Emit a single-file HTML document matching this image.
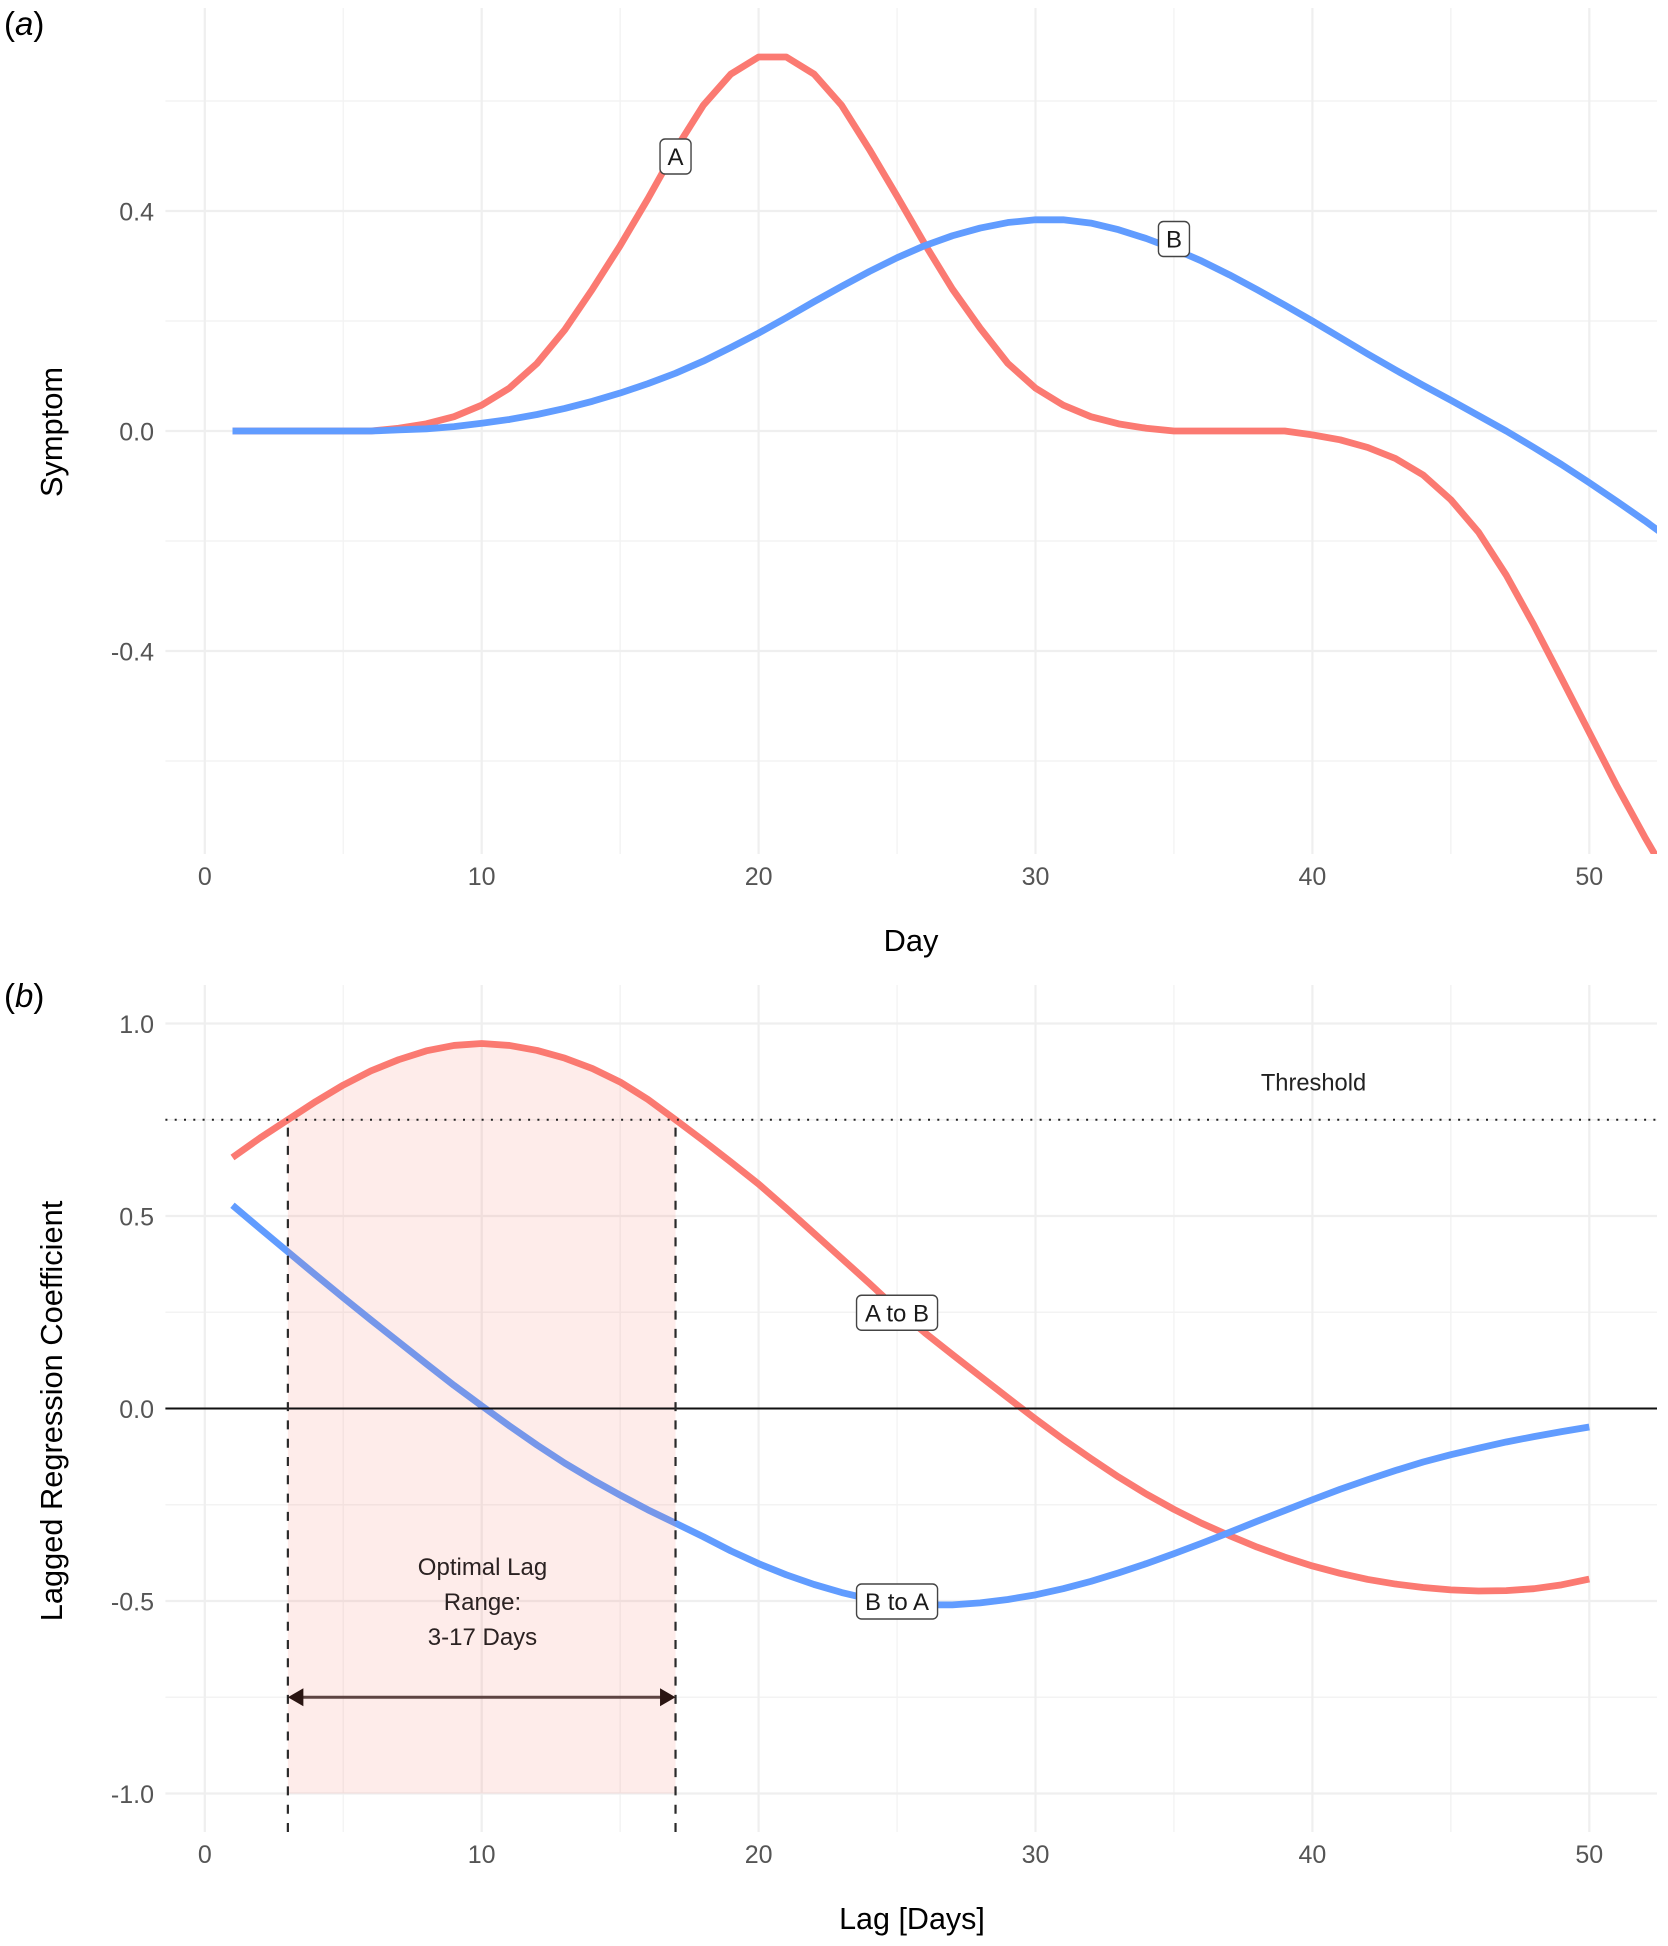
<!DOCTYPE html>
<html lang="en">
<head>
<meta charset="utf-8">
<title>Symptom trajectories and lagged regression coefficients</title>
<style>
html,body{margin:0;padding:0;background:#fff;}
body{width:1668px;height:1946px;overflow:hidden;}
svg{display:block;font-family:"Liberation Sans",Arial,sans-serif;}
</style>
</head>
<body>
<svg id="chart" xmlns="http://www.w3.org/2000/svg" width="1668" height="1946" viewBox="0 0 1668 1946">
  <defs>
    <clipPath id="clip-a"><rect x="165.4" y="8" width="1491.6" height="846"/></clipPath>
    <clipPath id="clip-b"><rect x="165.4" y="985" width="1491.6" height="847"/></clipPath>
  </defs>
  <rect width="1668" height="1946" fill="#ffffff"/>
  <g id="panel-a"></g>
  <g id="panel-b"></g>
  <text x="4" y="35" font-size="33" fill="#000"><tspan>(</tspan><tspan font-style="italic">a</tspan><tspan>)</tspan></text>
  <text x="4" y="1007" font-size="33" fill="#000"><tspan>(</tspan><tspan font-style="italic">b</tspan><tspan>)</tspan></text>
  <text x="911" y="951" font-size="30.8" text-anchor="middle" fill="#000">Day</text>
  <text transform="translate(62,432) rotate(-90)" font-size="30.8" text-anchor="middle" fill="#000">Symptom</text>
  <text x="912" y="1929" font-size="30.5" text-anchor="middle" fill="#000">Lag [Days]</text>
  <text transform="translate(62,1411) rotate(-90)" font-size="30.8" text-anchor="middle" fill="#000">Lagged Regression Coefficient</text>
  <text x="1313.5" y="1090.5" font-size="23.7" text-anchor="middle" fill="#222">Threshold</text>
  <text x="482.5" y="1575" font-size="24" text-anchor="middle" fill="#2b2222">Optimal Lag</text>
  <text x="482.5" y="1610" font-size="24" text-anchor="middle" fill="#2b2222">Range:</text>
  <text x="482.5" y="1645" font-size="24" text-anchor="middle" fill="#2b2222">3-17 Days</text>
</svg>
<script>
// ---- Panel (a) data ----
const dayValues = [1,2,3,4,5,6,7,8,9,10,11,12,13,14,15,16,17,18,19,20,21,22,23,24,25,26,27,28,29,30,31,32,33,34,35,36,37,38,39,40,41,42,43,44,45,46,47,48,49,50,51,52,53];
const symptomA = [0,0,0,0,0,0,0.005,0.013,0.026,0.047,0.078,0.123,0.184,0.258,0.337,0.422,0.512,0.592,0.649,0.68,0.68,0.649,0.592,0.512,0.427,0.34,0.258,0.187,0.123,0.078,0.047,0.026,0.013,0.005,0,0,0,0,0,-0.007,-0.016,-0.03,-0.05,-0.08,-0.125,-0.184,-0.262,-0.353,-0.45,-0.548,-0.646,-0.738,-0.825];
const symptomB = [0,0,0,0,0,0,0.002,0.004,0.008,0.014,0.021,0.03,0.041,0.054,0.069,0.086,0.105,0.127,0.152,0.178,0.206,0.235,0.263,0.29,0.315,0.337,0.355,0.369,0.379,0.384,0.384,0.378,0.366,0.35,0.331,0.309,0.284,0.257,0.229,0.2,0.17,0.14,0.111,0.083,0.056,0.028,0,-0.03,-0.061,-0.094,-0.128,-0.163,-0.2];
const xTicksMajor = [0,10,20,30,40,50];
const xTicksMinor = [5,15,25,35,45];
const yTicksA = [-0.4,0,0.4];
const yTickLabelsA = ["-0.4","0.0","0.4"];
const yMinorA = [-0.6,-0.2,0.2,0.6];

// ---- Panel (b) data ----
const lagValues = [1,2,3,4,5,6,7,8,9,10,11,12,13,14,15,16,17,18,19,20,21,22,23,24,25,26,27,28,29,30,31,32,33,34,35,36,37,38,39,40,41,42,43,44,45,46,47,48,49,50];
const coefAtoB = [0.652,0.703,0.75,0.797,0.84,0.877,0.906,0.929,0.943,0.948,0.943,0.93,0.91,0.883,0.848,0.803,0.75,0.696,0.64,0.583,0.52,0.455,0.39,0.325,0.258,0.197,0.14,0.084,0.028,-0.027,-0.08,-0.13,-0.178,-0.222,-0.262,-0.298,-0.33,-0.36,-0.386,-0.409,-0.428,-0.444,-0.456,-0.465,-0.471,-0.474,-0.473,-0.468,-0.458,-0.443];
const coefBtoA = [0.528,0.467,0.407,0.347,0.288,0.23,0.173,0.116,0.06,0.007,-0.045,-0.095,-0.142,-0.185,-0.225,-0.263,-0.298,-0.333,-0.37,-0.403,-0.432,-0.457,-0.478,-0.495,-0.505,-0.51,-0.51,-0.505,-0.496,-0.484,-0.468,-0.449,-0.427,-0.403,-0.377,-0.35,-0.322,-0.293,-0.265,-0.237,-0.21,-0.185,-0.161,-0.139,-0.12,-0.103,-0.087,-0.073,-0.06,-0.048];
const yTicksB = [-1,-0.5,0,0.5,1];
const yTickLabelsB = ["-1.0","-0.5","0.0","0.5","1.0"];
const yMinorB = [-0.75,-0.25,0.25,0.75];
const thresholdValue = [0.75];
const lagRange = [3,17];

// ---- Axis functions ----
const NS = 'http://www.w3.org/2000/svg';
const sx = d => 204.8 + 27.69 * d;
const syA = v => 431 - 550 * v;
const syB = v => 1408.5 - 385 * v;
const LEFT = 165.4, RIGHT = 1657;
const LINE_W = 6.8;
const RED = '#fb7a72', BLUE = '#619cff';
const panelA = document.getElementById('panel-a');
const panelB = document.getElementById('panel-b');

function mk(parent, tag, attrs, txt) {
  const e = document.createElementNS(NS, tag);
  for (const k in attrs) e.setAttribute(k, attrs[k]);
  if (txt !== undefined) e.textContent = txt;
  parent.appendChild(e);
  return e;
}

function drawGrid(parent, sy, top, bottom, yMajor, yLabels, yMinor, tickY) {
  yMinor.forEach(v => {
    const l = mk(parent, 'line', {x1: LEFT, x2: RIGHT, y1: sy(v), y2: sy(v), stroke: '#f3f3f3', 'stroke-width': 1.4});
    
    
  });
  xTicksMinor.forEach(v => {
    const l = mk(parent, 'line', {x1: sx(v), x2: sx(v), y1: top, y2: bottom, stroke: '#f3f3f3', 'stroke-width': 1.4});
    
    
  });
  yMajor.forEach((v, i) => {
    const l = mk(parent, 'line', {x1: LEFT, x2: RIGHT, y1: sy(v), y2: sy(v), stroke: '#efefef', 'stroke-width': 2.2});
    
    
    const t = mk(parent, 'text', {x: 154, y: sy(v) + 9.5, 'font-size': 25, 'text-anchor': 'end', fill: '#555'}, yLabels[i]);
    
    
  });
  xTicksMajor.forEach(v => {
    const l = mk(parent, 'line', {x1: sx(v), x2: sx(v), y1: top, y2: bottom, stroke: '#efefef', 'stroke-width': 2.2});
    
    
    const t = mk(parent, 'text', {x: sx(v), y: tickY, 'font-size': 25, 'text-anchor': 'middle', fill: '#555'}, String(v));
    
    
  });
}

function linePath(xs, ys, sy) {
  return xs.map((x, i) => (i ? 'L' : 'M') + sx(x).toFixed(2) + ' ' + sy(ys[i]).toFixed(2)).join('');
}

function drawLabel(parent, x, y, w, text, name) {
  const g = mk(parent, 'g', {});
  
  
  mk(g, 'rect', {x: x - w / 2, y: y - 17, width: w, height: 35, rx: 5, ry: 5, fill: '#fff', stroke: '#444', 'stroke-width': 1.4});
  mk(g, 'text', {x: x, y: y + 9, 'font-size': 24, 'text-anchor': 'middle', fill: '#1a1a1a'}, text);
}

// ---- Panel (a) ----
drawGrid(panelA, syA, 8, 854, yTicksA, yTickLabelsA, yMinorA, 885);
const lineA = mk(panelA, 'path', {d: linePath(dayValues, symptomA, syA), fill: 'none', stroke: RED, 'stroke-width': LINE_W, 'stroke-linejoin': 'round', 'clip-path': 'url(#clip-a)'});


const lineB = mk(panelA, 'path', {d: linePath(dayValues, symptomB, syA), fill: 'none', stroke: BLUE, 'stroke-width': LINE_W, 'stroke-linejoin': 'round', 'clip-path': 'url(#clip-a)'});


drawLabel(panelA, sx(dayValues[16]), syA(0.5), 31, 'A', 'label-a');
drawLabel(panelA, sx(dayValues[34]), syA(0.35), 31, 'B', 'label-b');

// ---- Panel (b) ----
drawGrid(panelB, syB, 985, 1832, yTicksB, yTickLabelsB, yMinorB, 1863);
const lineAB = mk(panelB, 'path', {d: linePath(lagValues, coefAtoB, syB), fill: 'none', stroke: RED, 'stroke-width': LINE_W, 'stroke-linejoin': 'round', 'clip-path': 'url(#clip-b)'});


const lineBA = mk(panelB, 'path', {d: linePath(lagValues, coefBtoA, syB), fill: 'none', stroke: BLUE, 'stroke-width': LINE_W, 'stroke-linejoin': 'round', 'clip-path': 'url(#clip-b)'});



// ribbon: from -1 up to the A-to-B curve over the optimal lag range
const ribbonIdx = lagValues.map((d, i) => i).filter(i => lagValues[i] >= lagRange[0] && lagValues[i] <= lagRange[1]);
let ribbonD = 'M' + sx(lagRange[0]) + ' ' + syB(-1);
ribbonIdx.forEach(i => { ribbonD += 'L' + sx(lagValues[i]).toFixed(2) + ' ' + syB(coefAtoB[i]).toFixed(2); });
ribbonD += 'L' + sx(lagRange[1]) + ' ' + syB(-1) + 'Z';
const ribbon = mk(panelB, 'path', {d: ribbonD, fill: '#f8766d', 'fill-opacity': 0.14});



const zeroLine = mk(panelB, 'line', {x1: LEFT, x2: RIGHT, y1: syB(0), y2: syB(0), stroke: '#111', 'stroke-width': 2});


const thresholdLine = mk(panelB, 'line', {x1: LEFT, x2: RIGHT, y1: syB(thresholdValue[0]), y2: syB(thresholdValue[0]), stroke: '#222', 'stroke-width': 2, 'stroke-dasharray': '2 7.3'});



lagRange.forEach(d => {
  const l = mk(panelB, 'line', {x1: sx(d), x2: sx(d), y1: 1832, y2: syB(thresholdValue[0]), stroke: '#2a2a2a', 'stroke-width': 2.2, 'stroke-dasharray': '9 9.3'});
  
  
});

// arrow across the lag range
const arrowY = syB(-0.75), ax0 = sx(lagRange[0]), ax1 = sx(lagRange[1]);
const arrowShaft = mk(panelB, 'line', {x1: ax0 + 10, x2: ax1 - 10, y1: arrowY, y2: arrowY, stroke: '#5d4442', 'stroke-width': 3});


const headL = mk(panelB, 'polygon', {points: `${ax0},${arrowY} ${ax0 + 15.5},${arrowY - 9} ${ax0 + 15.5},${arrowY + 9}`, fill: '#2a1512'});


const headR = mk(panelB, 'polygon', {points: `${ax1},${arrowY} ${ax1 - 15.5},${arrowY - 9} ${ax1 - 15.5},${arrowY + 9}`, fill: '#2a1512'});



drawLabel(panelB, sx(lagValues[24]), syB(0.25), 81, 'A to B', 'label-a-to-b');
drawLabel(panelB, sx(lagValues[24]), syB(-0.5), 81, 'B to A', 'label-b-to-a');
</script>
</body>
</html>
